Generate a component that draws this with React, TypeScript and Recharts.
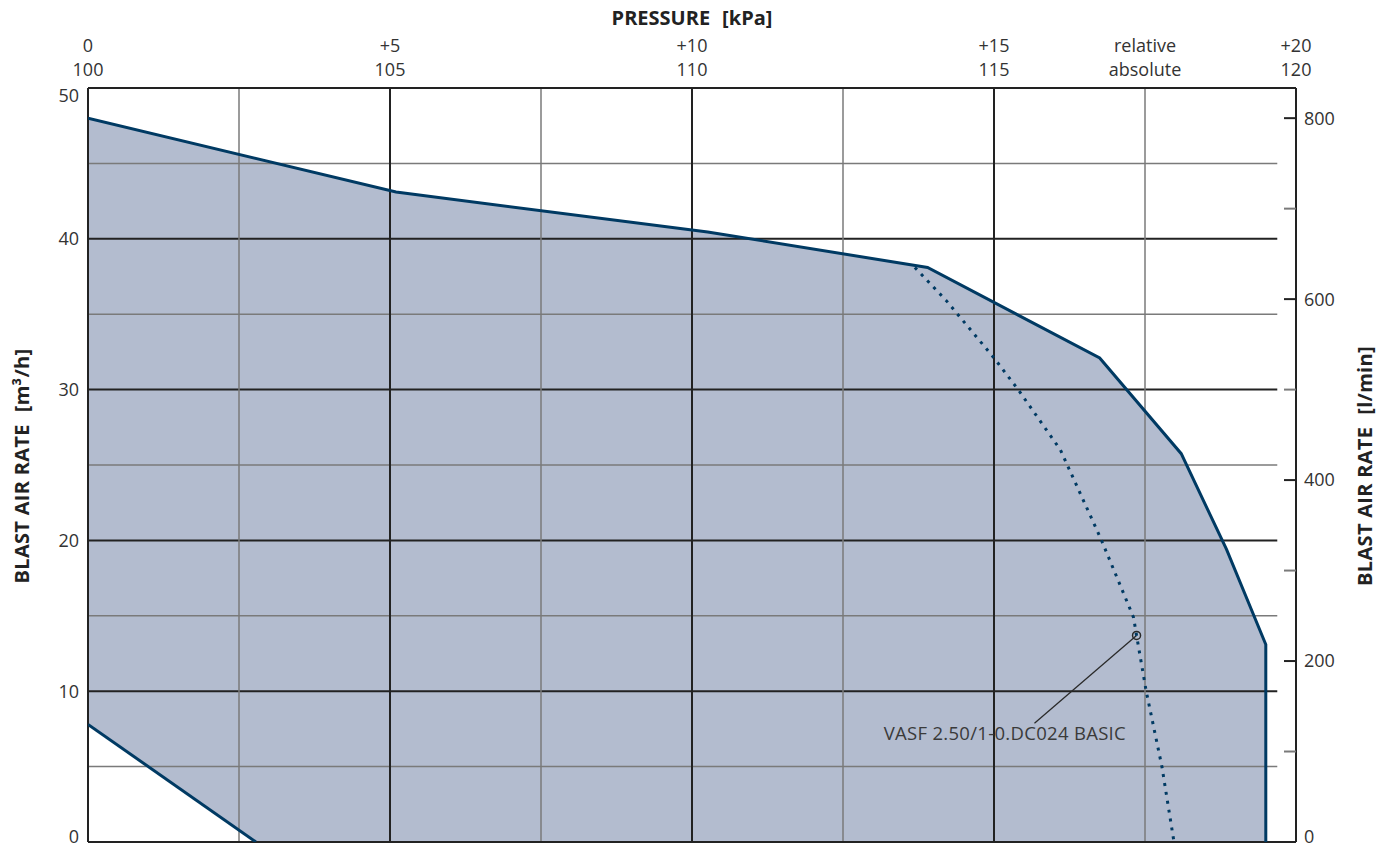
import React from "react";
import {
  ComposedChart,
  Area,
  Line,
  XAxis,
  YAxis,
  ReferenceLine,
  ReferenceDot,
} from "recharts";

// ---- data ----
const upperCurve = [
  { x: 0, y: 48.0 },
  { x: 5.1, y: 43.1 },
  { x: 10.26, y: 40.45 },
  { x: 13.9, y: 38.1 },
  { x: 16.75, y: 32.1 },
  { x: 18.1, y: 25.75 },
  { x: 18.85, y: 19.4 },
  { x: 19.5, y: 13.1 },
  { x: 19.5, y: 0 },
];
const lowerCurve = [
  { x: 0, y: 7.8 },
  { x: 2.78, y: 0 },
];
const deviceCurve = [
  { x: 13.69, y: 38.1 },
  { x: 14.21, y: 35.9 },
  { x: 15.0, y: 32.1 },
  { x: 15.4, y: 30.0 },
  { x: 16.1, y: 26.0 },
  { x: 16.77, y: 20.1 },
  { x: 17.31, y: 14.9 },
  { x: 17.36, y: 13.7 },
  { x: 17.52, y: 10 },
  { x: 17.78, y: 5 },
  { x: 17.98, y: 0 },
];
const operatingPoint = { x: 17.36, y: 13.7 };
const leaderLine = [
  { x: 17.36, y: 13.7 },
  { x: 15.67, y: 7.87 },
];
const labelPoint = { x: 15.18, y: 7.2 };
const deviceName = "VASF 2.50/1-0.DC024 BASIC";

const pressureTicks = [0, 5, 10, 15, 17.5, 20];
const relativeLabels = ["0", "+5", "+10", "+15", "relative", "+20"];
const absoluteLabels = ["100", "105", "110", "115", "absolute", "120"];
const m3hTicks = [0, 10, 20, 30, 40, 50];
const lminTicks = [0, 100, 200, 300, 400, 500, 600, 700, 800];
const lminLabelled = [0, 200, 400, 600, 800];
const lminMax = 2500 / 3;
const verticalGrid = [2.5, 5, 7.5, 10, 12.5, 15, 17.5];
const majorVertical = [5, 10, 15];
const horizontalGrid = [5, 10, 15, 20, 25, 30, 35, 40, 45];
const majorHorizontal = [10, 20, 30, 40];
const gridEndX = 19.69;

// ---- styles ----
const FONT = "'Open Sans', Lato, sans-serif";
const TEXT = "#333";
const NAVY = "#003a63";
const FILL = "#b3bccf";
const MAJOR = "#222";
const MINOR = "#7a7a7a";
const TICK_SIZE = 18;

const PressureTick = (props: any) => {
  const { x, y, payload } = props;
  const i = pressureTicks.indexOf(payload.value);
  return (
    <g>
      <text x={x} y={y - 36} textAnchor="middle" fill={TEXT} fontSize={TICK_SIZE} fontFamily={FONT}>
        {relativeLabels[i]}
      </text>
      <text x={x} y={y - 12} textAnchor="middle" fill={TEXT} fontSize={TICK_SIZE} fontFamily={FONT}>
        {absoluteLabels[i]}
      </text>
    </g>
  );
};

// end labels are nudged inward, as in the original drawing
const edgeShift = (v: number, min: number, max: number) => (v === min ? -5 : v === max ? 7.5 : 0);

const M3hTick = (props: any) => {
  const { x, y, payload } = props;
  return (
    <text
      x={x}
      y={y + edgeShift(payload.value, 0, 50)}
      dy="0.355em"
      textAnchor="end"
      fill={TEXT}
      fontSize={TICK_SIZE}
      fontFamily={FONT}
    >
      {payload.value}
    </text>
  );
};

const LminTick = (props: any) => {
  const { x, y, payload } = props;
  const major = lminLabelled.includes(payload.value);
  return (
    <g>
      <line x1={x - 12} x2={x} y1={y} y2={y} stroke={major ? MAJOR : MINOR} strokeWidth={2} />
      {major && (
        <text
          x={x + 8}
          y={y + (payload.value === 0 ? -5 : 0)}
          dy="0.355em"
          textAnchor="start"
          fill={TEXT}
          fontSize={TICK_SIZE}
          fontFamily={FONT}
        >
          {payload.value}
        </text>
      )}
    </g>
  );
};

const DeviceLabel = (props: any) => (
  <text
    x={props.cx}
    y={props.cy}
    dy="0.355em"
    textAnchor="middle"
    fill="#3a3a3a"
    fontSize={18.5}
    letterSpacing={0.3}
    fontFamily={FONT}
  >
    {deviceName}
  </text>
);

const axisTitle: React.CSSProperties = {
  position: "absolute",
  fontSize: 20,
  fontWeight: 700,
  whiteSpace: "nowrap",
  color: "#222",
  fontFamily: FONT,
  lineHeight: 1,
};

export default function App() {
  return (
    <div style={{ position: "relative", width: 1380, height: 842, fontFamily: FONT, color: "#222" }}>
      <style>{"svg.recharts-surface{overflow:visible}"}</style>
      <ComposedChart
        width={1380}
        height={842}
        margin={{ top: 20, right: 20, bottom: 8, left: 20 }}
      >
        <XAxis
          xAxisId="p"
          dataKey="x"
          type="number"
          orientation="top"
          domain={[0, 20]}
          ticks={pressureTicks}
          allowDataOverflow
          height={60}
          tickSize={0}
          tickMargin={0}
          tickLine={false}
          axisLine={{ stroke: MAJOR, strokeWidth: 2 }}
          tick={<PressureTick />}
          interval={0}
        />
        <YAxis
          yAxisId="l"
          type="number"
          domain={[0, 50]}
          ticks={m3hTicks}
          allowDataOverflow
          width={60}
          tickSize={0}
          tickMargin={9}
          tickLine={false}
          axisLine={{ stroke: MAJOR, strokeWidth: 2 }}
          tick={<M3hTick />}
          interval={0}
        />
        <YAxis
          yAxisId="r"
          orientation="right"
          type="number"
          domain={[0, lminMax]}
          ticks={lminTicks}
          allowDataOverflow
          width={72}
          tickSize={0}
          tickMargin={0}
          tickLine={false}
          axisLine={{ stroke: MAJOR, strokeWidth: 2 }}
          tick={<LminTick />}
          interval={0}
        />

        <Area
          xAxisId="p"
          yAxisId="l"
          data={upperCurve}
          dataKey="y"
          type="linear"
          fill={FILL}
          fillOpacity={1}
          stroke="none"
          baseValue={0}
          isAnimationActive={false}
          zIndex={100}
        />
        <Area
          xAxisId="p"
          yAxisId="l"
          data={lowerCurve}
          dataKey="y"
          type="linear"
          fill="#ffffff"
          fillOpacity={1}
          stroke="none"
          baseValue={0}
          isAnimationActive={false}
          zIndex={150}
        />

        {horizontalGrid.map((v) => (
          <ReferenceLine
            key={"h" + v}
            xAxisId="p"
            yAxisId="l"
            segment={[
              { x: 0, y: v },
              { x: gridEndX, y: v },
            ]}
            stroke={majorHorizontal.includes(v) ? MAJOR : MINOR}
            strokeWidth={majorHorizontal.includes(v) ? 2 : 1.5}
            zIndex={300}
          />
        ))}
        {verticalGrid.map((v) => (
          <ReferenceLine
            key={"v" + v}
            xAxisId="p"
            yAxisId="l"
            x={v}
            stroke={majorVertical.includes(v) ? MAJOR : MINOR}
            strokeWidth={majorVertical.includes(v) ? 2 : 1.5}
            zIndex={300}
          />
        ))}
        <ReferenceLine xAxisId="p" yAxisId="l" y={0} stroke={MAJOR} strokeWidth={2} zIndex={300} />

        <Line
          xAxisId="p"
          yAxisId="l"
          data={leaderLine}
          dataKey="y"
          type="linear"
          stroke="#2a2a2a"
          strokeWidth={1.3}
          dot={false}
          activeDot={false}
          isAnimationActive={false}
          zIndex={450}
        />
        <Line
          xAxisId="p"
          yAxisId="l"
          data={deviceCurve}
          dataKey="y"
          type="linear"
          stroke={NAVY}
          strokeWidth={3}
          strokeDasharray="3 6"
          dot={false}
          activeDot={false}
          isAnimationActive={false}
          zIndex={500}
        />
        <Line
          xAxisId="p"
          yAxisId="l"
          data={upperCurve}
          dataKey="y"
          type="linear"
          stroke={NAVY}
          strokeWidth={3}
          dot={false}
          activeDot={false}
          isAnimationActive={false}
          zIndex={500}
        />
        <Line
          xAxisId="p"
          yAxisId="l"
          data={lowerCurve}
          dataKey="y"
          type="linear"
          stroke={NAVY}
          strokeWidth={3}
          dot={false}
          activeDot={false}
          isAnimationActive={false}
          zIndex={500}
        />
        <ReferenceDot
          xAxisId="p"
          yAxisId="l"
          x={operatingPoint.x}
          y={operatingPoint.y}
          r={4}
          fill="none"
          stroke="#2a2a2a"
          strokeWidth={1.5}
          zIndex={600}
        />
        <ReferenceDot
          xAxisId="p"
          yAxisId="l"
          x={labelPoint.x}
          y={labelPoint.y}
          r={1}
          shape={DeviceLabel}
          zIndex={600}
        />
      </ComposedChart>

      <div style={{ ...axisTitle, left: 684, top: 10, transform: "translate(-50%, -50%)" }}>
        PRESSURE<span style={{ marginLeft: 12 }}>[kPa]</span>
      </div>
      <div
        style={{
          ...axisTitle,
          left: 14,
          top: 458,
          letterSpacing: 0.3,
          transform: "translate(-50%, -50%) rotate(-90deg)",
        }}
      >
        BLAST AIR RATE<span style={{ marginLeft: 12 }}>[m³/h]</span>
      </div>
      <div
        style={{
          ...axisTitle,
          left: 1357,
          top: 458,
          letterSpacing: 0.3,
          transform: "translate(-50%, -50%) rotate(-90deg)",
        }}
      >
        BLAST AIR RATE<span style={{ marginLeft: 12 }}>[l/min]</span>
      </div>
    </div>
  );
}
